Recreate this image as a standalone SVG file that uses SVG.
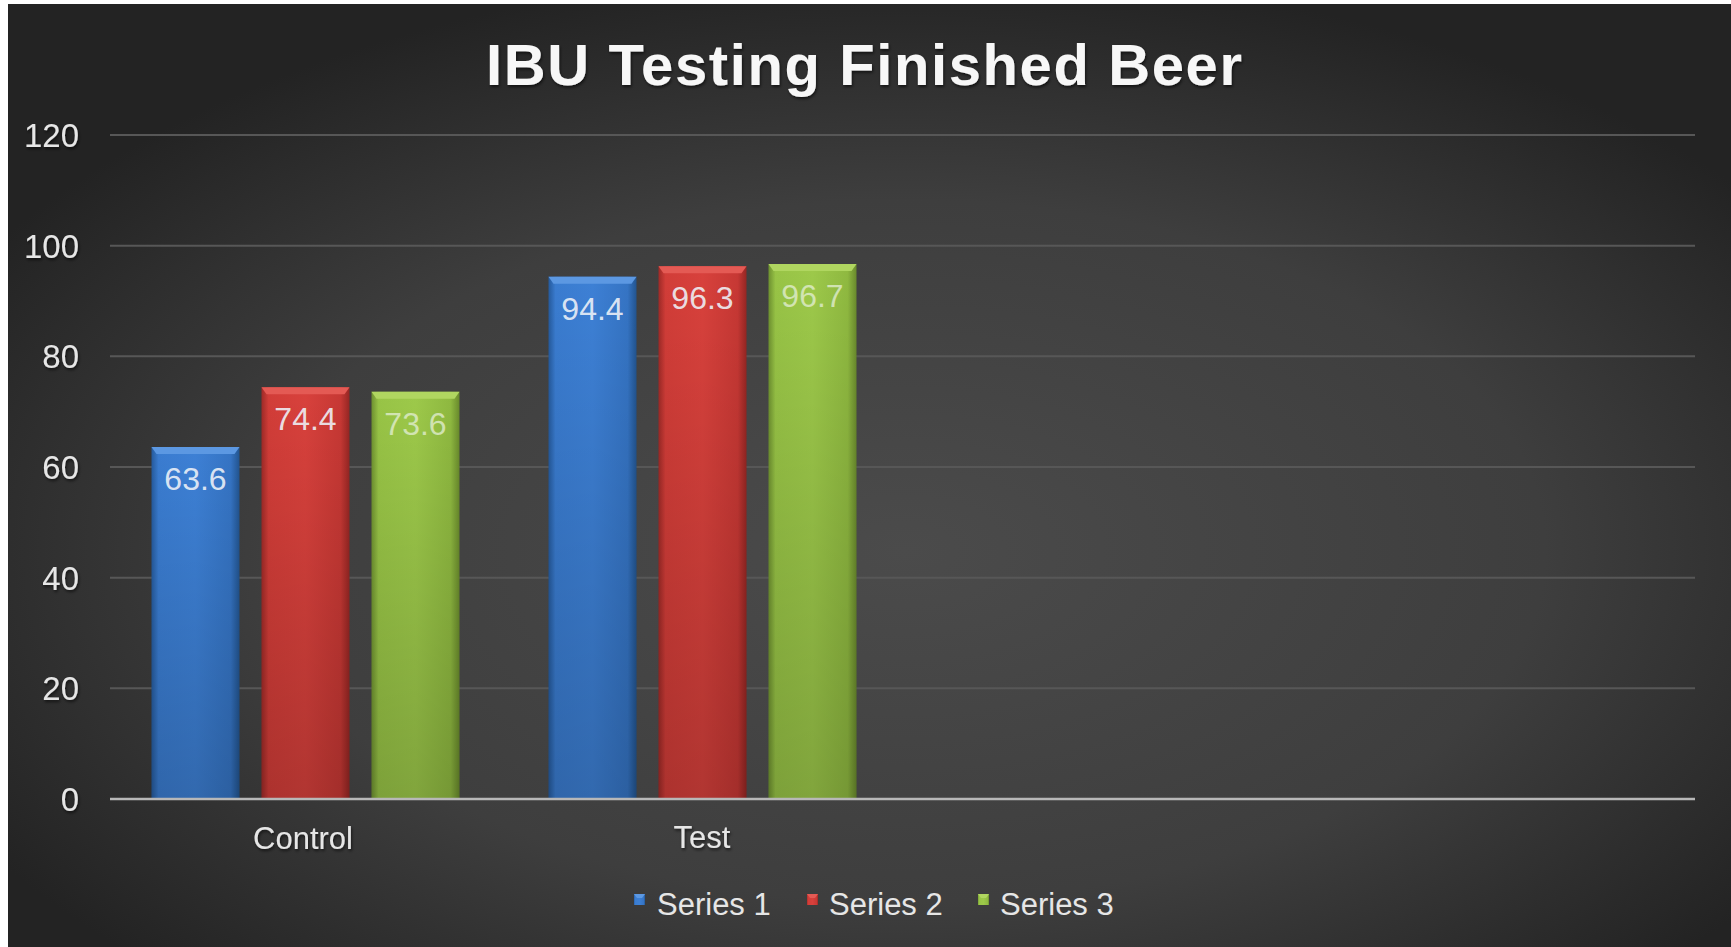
<svg xmlns="http://www.w3.org/2000/svg" width="1731" height="947" viewBox="0 0 1731 947">
<defs>
<radialGradient id="bg" cx="52%" cy="58%" r="62%">
<stop offset="0" stop-color="#4b4b4b"/>
<stop offset="0.6" stop-color="#3e3e3e"/>
<stop offset="1" stop-color="#232323"/>
</radialGradient>
<linearGradient id="gBlue" x1="0" y1="0" x2="1" y2="0">
<stop offset="0" stop-color="#255a9c"/>
<stop offset="0.08" stop-color="#3a7cd0"/>
<stop offset="0.5" stop-color="#3d80d5"/>
<stop offset="0.9" stop-color="#3574c4"/>
<stop offset="1" stop-color="#22548f"/>
</linearGradient>
<linearGradient id="gRed" x1="0" y1="0" x2="1" y2="0">
<stop offset="0" stop-color="#9e2a27"/>
<stop offset="0.08" stop-color="#d23d38"/>
<stop offset="0.5" stop-color="#d8413c"/>
<stop offset="0.9" stop-color="#c73834"/>
<stop offset="1" stop-color="#952623"/>
</linearGradient>
<linearGradient id="gGreen" x1="0" y1="0" x2="1" y2="0">
<stop offset="0" stop-color="#6e9130"/>
<stop offset="0.08" stop-color="#98c446"/>
<stop offset="0.5" stop-color="#9dc94a"/>
<stop offset="0.9" stop-color="#8fb940"/>
<stop offset="1" stop-color="#698a2c"/>
</linearGradient>
<linearGradient id="shade" x1="0" y1="0" x2="0" y2="1">
<stop offset="0" stop-color="#000" stop-opacity="0"/>
<stop offset="1" stop-color="#000" stop-opacity="0.18"/>
</linearGradient>
<filter id="ts" x="-10%" y="-30%" width="120%" height="160%">
<feGaussianBlur in="SourceAlpha" stdDeviation="1.5"/>
<feOffset dx="1" dy="2" result="b"/>
<feFlood flood-color="#000" flood-opacity="0.6"/>
<feComposite in2="b" operator="in"/>
<feMerge><feMergeNode/><feMergeNode in="SourceGraphic"/></feMerge>
</filter>
</defs>
<style>
.txt{font-family:"Liberation Sans",Arial,sans-serif;fill:#e6e6e6}
.title{font-size:58px;font-weight:bold;fill:#f7f7f7;letter-spacing:1.6px}
.ylab{font-size:33px;text-anchor:end}
.cat{font-size:31px;text-anchor:middle}
.val{font-size:32px;text-anchor:middle;fill:#eef2f8;fill-opacity:0.9}
.valg{fill:#e4efd6;fill-opacity:0.75}
.leg{font-size:31px}
.grid{stroke:#575757;stroke-width:2}
.axis{stroke:#b8b8b8;stroke-width:2.5}
.bevB{fill:#5c98e2}
.bevR{fill:#e45a54}
.bevG{fill:#b0d660}
</style>
<rect width="1731" height="947" fill="#fff"/>
<rect x="8" y="4" width="1723" height="943" fill="url(#bg)"/>
<text class="txt title" x="486" y="85" filter="url(#ts)">IBU Testing Finished Beer</text>
<g id="gridlines">
<line class="grid" x1="110" y1="135" x2="1695" y2="135"/>
<line class="grid" x1="110" y1="245.7" x2="1695" y2="245.7"/>
<line class="grid" x1="110" y1="356.3" x2="1695" y2="356.3"/>
<line class="grid" x1="110" y1="467" x2="1695" y2="467"/>
<line class="grid" x1="110" y1="577.7" x2="1695" y2="577.7"/>
<line class="grid" x1="110" y1="688.3" x2="1695" y2="688.3"/>
</g>
<g id="y-axis-labels" filter="url(#ts)">
<text class="txt ylab" x="79" y="147">120</text>
<text class="txt ylab" x="79" y="257.5">100</text>
<text class="txt ylab" x="79" y="368">80</text>
<text class="txt ylab" x="79" y="479">60</text>
<text class="txt ylab" x="79" y="589.5">40</text>
<text class="txt ylab" x="79" y="700">20</text>
<text class="txt ylab" x="79" y="811">0</text>
</g>
<g id="bar-control-s1">
<rect x="151.5" y="447" width="88" height="352" fill="url(#gBlue)"/>
<rect x="151.5" y="447" width="88" height="352" fill="url(#shade)"/>
<polygon class="bevB" points="151.5,447 239.5,447 234.5,454 156.5,454"/>
<text class="txt val" x="195.5" y="490">63.6</text>
</g>
<g id="bar-control-s2">
<rect x="261.5" y="387.3" width="88" height="411.7" fill="url(#gRed)"/>
<rect x="261.5" y="387.3" width="88" height="411.7" fill="url(#shade)"/>
<polygon class="bevR" points="261.5,387.3 349.5,387.3 344.5,394.3 266.5,394.3"/>
<text class="txt val" x="305.5" y="430">74.4</text>
</g>
<g id="bar-control-s3">
<rect x="371.5" y="391.8" width="88" height="407.2" fill="url(#gGreen)"/>
<rect x="371.5" y="391.8" width="88" height="407.2" fill="url(#shade)"/>
<polygon class="bevG" points="371.5,391.8 459.5,391.8 454.5,398.8 376.5,398.8"/>
<text class="txt val valg" x="415.5" y="435">73.6</text>
</g>
<g id="bar-test-s1">
<rect x="548.5" y="276.7" width="88" height="522.3" fill="url(#gBlue)"/>
<rect x="548.5" y="276.7" width="88" height="522.3" fill="url(#shade)"/>
<polygon class="bevB" points="548.5,276.7 636.5,276.7 631.5,283.7 553.5,283.7"/>
<text class="txt val" x="592.5" y="320">94.4</text>
</g>
<g id="bar-test-s2">
<rect x="658.5" y="266.2" width="88" height="532.8" fill="url(#gRed)"/>
<rect x="658.5" y="266.2" width="88" height="532.8" fill="url(#shade)"/>
<polygon class="bevR" points="658.5,266.2 746.5,266.2 741.5,273.2 663.5,273.2"/>
<text class="txt val" x="702.5" y="309">96.3</text>
</g>
<g id="bar-test-s3">
<rect x="768.5" y="264" width="88" height="535" fill="url(#gGreen)"/>
<rect x="768.5" y="264" width="88" height="535" fill="url(#shade)"/>
<polygon class="bevG" points="768.5,264 856.5,264 851.5,271 773.5,271"/>
<text class="txt val valg" x="812.5" y="307">96.7</text>
</g>
<g id="axis">
<line class="axis" x1="110" y1="799" x2="1695" y2="799"/>
</g>
<g id="category-labels" filter="url(#ts)">
<text class="txt cat" x="303" y="849">Control</text>
<text class="txt cat" x="702" y="848">Test</text>
</g>
<g id="legend">
<g id="legend-s1">
<rect x="634" y="894" width="11" height="11" fill="url(#gBlue)"/>
<polygon class="bevB" points="634,894 645,894 642,898 637,898"/>
<text class="txt leg" x="657" y="915">Series 1</text>
</g>
<g id="legend-s2">
<rect x="807" y="894" width="11" height="11" fill="url(#gRed)"/>
<polygon class="bevR" points="807,894 818,894 815,898 810,898"/>
<text class="txt leg" x="829" y="915">Series 2</text>
</g>
<g id="legend-s3">
<rect x="978" y="894" width="11" height="11" fill="url(#gGreen)"/>
<polygon class="bevG" points="978,894 989,894 986,898 981,898"/>
<text class="txt leg" x="1000" y="915">Series 3</text>
</g>
</g>
</svg>
